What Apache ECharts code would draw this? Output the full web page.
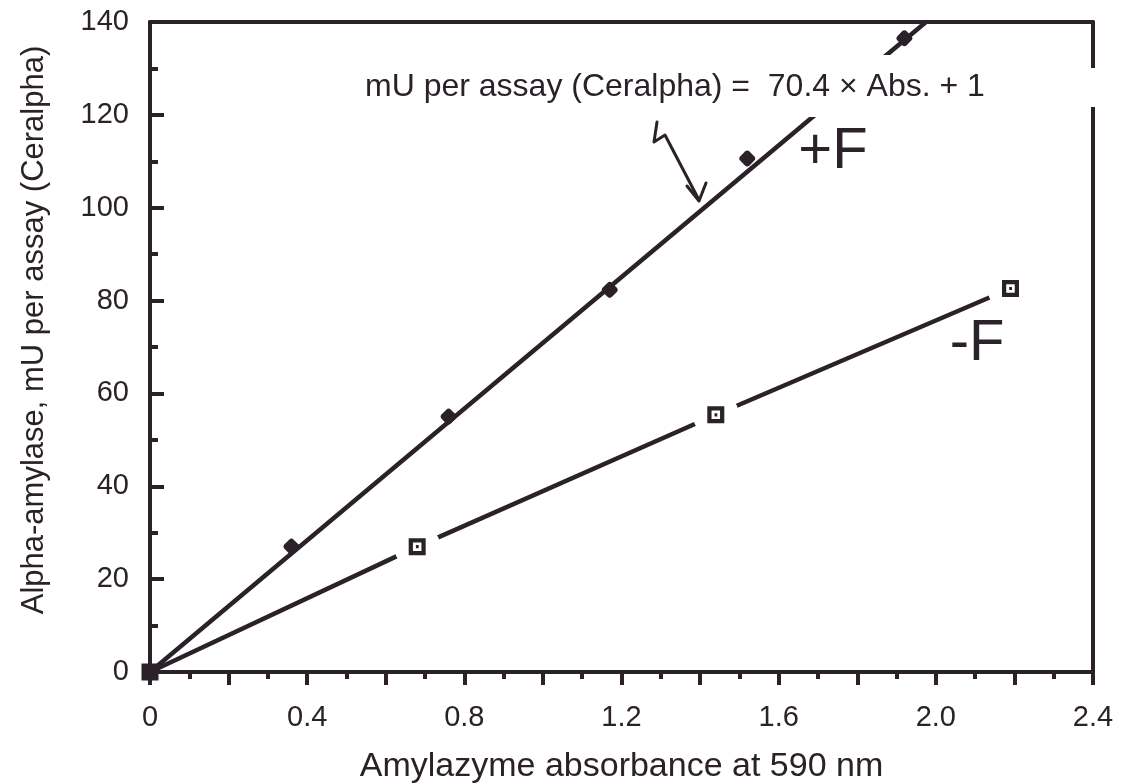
<!DOCTYPE html>
<html>
<head>
<meta charset="utf-8">
<title>Alpha-amylase vs Amylazyme absorbance</title>
<script src="https://cdn.jsdelivr.net/npm/echarts@6/dist/echarts.min.js"></script>
<style>
  html, body { margin: 0; padding: 0; background: #fff; }
  #main { width: 1122px; height: 783px; }
</style>
</head>
<body>
<div id="main"></div>
<script>
// data
const plusX = [0, 0.36, 0.76, 1.17, 1.52, 1.92];
const plusY = [0, 27, 55, 82.3, 110.6, 136.5];
const minusX = [0, 0.68, 1.44, 2.19];
const minusY = [0, 27, 55.4, 82.6];
// drawn regression line for +F (origin to where it leaves the top)
const plusLineX = [0, 1.975];
const plusLineY = [0, 140];
const xTickLabels = ['0', '0.4', '0.8', '1.2', '1.6', '2.0', '2.4'];
const yTickLabels = ['0', '20', '40', '60', '80', '100', '120', '140'];

const ink = '#2b2229';
const font = 'Liberation Sans, Arial, Helvetica, sans-serif';

const pairs = (xs, ys) => xs.map((x, i) => [x, ys[i]]);
const plusData = pairs(plusX, plusY);
const minusData = pairs(minusX, minusY);
const plusLine = pairs(plusLineX, plusLineY);
const minusHalo = minusData.filter(p => p[0] > 0);

// hollow square with a dot in the middle
const hollowSquare = 'path://M0 0L16 0L16 16L0 16Z M4 4L4 12L12 12L12 4Z M6.8 6.5L9.4 6.5L9.4 9.5L6.8 9.5Z';

const chart = echarts.init(document.getElementById('main'));
const option = {
  backgroundColor: '#fff',
  animation: false,
  title: {
    text: 'mU per assay (Ceralpha) =  70.4 \u00d7 Abs. + 1',
    left: 359,
    top: 55,
    padding: [16, 30, 14, 6],
    backgroundColor: '#fff',
    z: 20,
    textStyle: { color: ink, fontFamily: font, fontSize: 32, fontWeight: 'normal' }
  },
  grid: { left: 150, right: 29, top: 22, bottom: 111, outerBoundsMode: 'none' },
  xAxis: [
    {
      type: 'value', min: 0, max: 2.4, interval: 0.2,
      name: 'Amylazyme absorbance at 590 nm',
      nameLocation: 'middle', nameGap: 78,
      nameTextStyle: { color: ink, fontFamily: font, fontSize: 34 },
      axisLine: { onZero: false, lineStyle: { color: ink, width: 4 } },
      axisTick: { show: true, inside: false, length: 13, lineStyle: { color: ink, width: 4 } },
      minorTick: { show: true, splitNumber: 2, length: 7, lineStyle: { color: ink, width: 4 } },
      splitLine: { show: false },
      axisLabel: {
        margin: 31, color: ink, fontFamily: font, fontSize: 29,
        formatter: function (v) {
          const k = Math.round(v / 0.4);
          return Math.abs(v / 0.4 - k) < 1e-6 ? xTickLabels[k] : '';
        }
      }
    },
    {
      type: 'value', min: 0, max: 2.4, position: 'top',
      axisLine: { show: true, onZero: false, lineStyle: { color: ink, width: 4 } },
      axisTick: { show: false }, axisLabel: { show: false }, splitLine: { show: false }
    }
  ],
  yAxis: [
    {
      type: 'value', min: 0, max: 140, interval: 20,
      name: 'Alpha-amylase, mU per assay (Ceralpha)',
      nameLocation: 'middle', nameGap: 100, nameRotate: 90,
      nameTextStyle: { color: ink, fontFamily: font, fontSize: 31, padding: [0, 0, 0, 34] },
      axisLine: { show: true, onZero: false, lineStyle: { color: ink, width: 4 } },
      axisTick: { show: true, inside: true, length: 14, lineStyle: { color: ink, width: 4 } },
      minorTick: { show: true, splitNumber: 2, length: 8, lineStyle: { color: ink, width: 4 } },
      splitLine: { show: false },
      axisLabel: {
        margin: 21, color: ink, fontFamily: font, fontSize: 29,
        formatter: function (v) { return yTickLabels[Math.round(v / 20)]; }
      }
    },
    {
      type: 'value', min: 0, max: 140, position: 'right',
      axisLine: { show: true, onZero: false, lineStyle: { color: ink, width: 4 } },
      axisTick: { show: false }, axisLabel: { show: false }, splitLine: { show: false }
    }
  ],
  series: [
    {
      name: '+F line', type: 'line', data: plusLine, symbol: 'none', z: 2,
      lineStyle: { color: ink, width: 4.5, cap: 'round' }
    },
    {
      name: '-F line', type: 'line', data: minusData, symbol: 'none', z: 2,
      lineStyle: { color: ink, width: 4.5, cap: 'round' }
    },
    {
      name: '-F gap', type: 'scatter', data: minusHalo, symbol: 'circle', symbolSize: 46, z: 3,
      itemStyle: { color: '#fff', opacity: 1 }, silent: true
    },
    {
      name: '-F', type: 'scatter', data: minusData, symbol: hollowSquare, symbolSize: 17, z: 4,
      itemStyle: { color: ink, opacity: 1 }
    },
    {
      name: '+F', type: 'scatter', data: plusData, symbol: 'roundRect', symbolSize: 13, symbolRotate: 45, z: 5,
      itemStyle: { color: ink, opacity: 1 }
    }
  ],
  graphic: [
    {
      // white-out where the right frame is broken beside the equation
      type: 'rect', z: 40,
      shape: { x: 1084, y: 68, width: 20, height: 39 },
      style: { fill: '#fff' }
    },
    {
      type: 'text', z: 30,
      style: { x: 833, y: 152, text: '+F', align: 'center', verticalAlign: 'middle',
        fill: ink, font: 'normal 58px ' + font }
    },
    {
      type: 'text', z: 30,
      style: { x: 977, y: 344, text: '-F', align: 'center', verticalAlign: 'middle',
        fill: ink, font: 'normal 58px ' + font }
    },
    {
      type: 'polyline', z: 30,
      shape: { points: [[657, 122], [654, 142], [665, 135], [699, 200]] },
      style: { stroke: ink, lineWidth: 3, fill: null, lineJoin: 'round', lineCap: 'round' }
    },
    {
      type: 'polyline', z: 30,
      shape: { points: [[687, 186], [699, 201], [706, 183]] },
      style: { stroke: ink, lineWidth: 3, fill: null, lineJoin: 'round', lineCap: 'round' }
    }
  ]
};
chart.setOption(option);
window.onresize = function () { chart.resize(); };
</script>
</body>
</html>
